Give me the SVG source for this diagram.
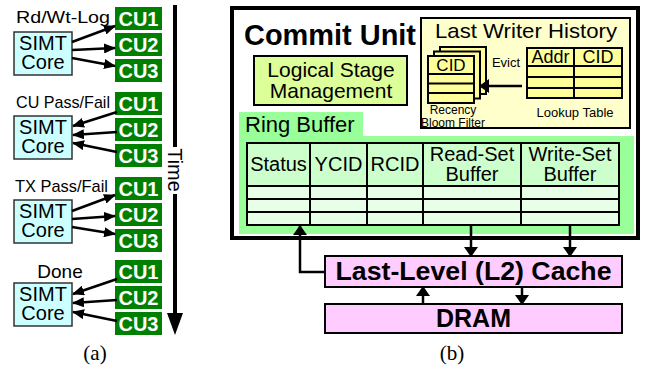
<svg xmlns="http://www.w3.org/2000/svg" width="646" height="371" viewBox="0 0 646 371">
  <style>
    text { font-family: "Liberation Sans", Arial, sans-serif; fill: #000; }
    .cu rect { fill: #008000; }
    .cu text { fill: #fff; font-weight: bold; font-size: 20px; text-anchor: middle; }
    .simt rect { fill: #ccffff; stroke: #333; stroke-width: 1.5; }
    .simt text { font-size: 20px; text-anchor: middle; }
    .lbl { font-size: 17px; }
    .wire { stroke: #000; stroke-width: 2.5; fill: none; }
    .bk { stroke: #000; stroke-width: 2; }
    .cap { font-family: "Liberation Serif", "Times New Roman", serif; font-size: 21px; text-anchor: middle; }
    .hdr { font-size: 20px; text-anchor: middle; }
    .sm { font-size: 13px; text-anchor: middle; }
    .mem { fill: #ffccff; stroke: #000; stroke-width: 2; }
    .memtxt { font-weight: bold; font-size: 25px; text-anchor: middle; }
  </style>
  <defs>
    <marker id="ah" markerUnits="userSpaceOnUse" markerWidth="12" markerHeight="10" refX="11" refY="5" orient="auto">
      <path d="M0,0 L12,5 L0,10 z" fill="#000"/>
    </marker>
    <marker id="ahb" markerUnits="userSpaceOnUse" markerWidth="10" markerHeight="14" refX="9" refY="7" orient="auto">
      <path d="M0,0 L10,7 L0,14 z" fill="#000"/>
    </marker>
    <g id="cus">
      <g class="cu">
        <rect x="115" y="0" width="47" height="23"/><text x="138.5" y="19">CU1</text>
        <rect x="115" y="26" width="47" height="23"/><text x="138.5" y="45">CU2</text>
        <rect x="115" y="52" width="47" height="23"/><text x="138.5" y="71">CU3</text>
      </g>
    </g>
    <g id="simt" class="simt">
      <rect x="14" y="0" width="58" height="43"/>
      <text x="43" y="18">SIMT</text>
      <text x="43" y="37">Core</text>
    </g>
  </defs>

  <!-- (a) timeline of commit messages -->
  <g id="step-rdwt">
    <text class="lbl" x="16" y="23" textLength="94" lengthAdjust="spacingAndGlyphs">Rd/Wt-Log</text>
    <use href="#simt" y="32"/>
    <use href="#cus" y="7"/>
  </g>
  <g id="step-cupass">
    <text class="lbl" x="16" y="108" textLength="94" lengthAdjust="spacingAndGlyphs">CU Pass/Fail</text>
    <use href="#simt" y="116"/>
    <use href="#cus" y="92"/>
  </g>
  <g id="step-txpass">
    <text class="lbl" x="15" y="192" textLength="93" lengthAdjust="spacingAndGlyphs">TX Pass/Fail</text>
    <use href="#simt" y="200"/>
    <use href="#cus" y="177"/>
  </g>
  <g id="step-done">
    <text class="lbl" x="60" y="278" text-anchor="middle" style="font-size:19px">Done</text>
    <use href="#simt" y="283"/>
    <use href="#cus" y="260"/>
  </g>

  <g id="time-axis">
    <line x1="175" y1="5" x2="175" y2="147" stroke="#000" stroke-width="4"/>
    <line x1="175" y1="194" x2="175" y2="316" stroke="#000" stroke-width="4"/>
    <path d="M167,313 L183,313 L175,335 z" fill="#000"/>
    <text transform="translate(168,170) rotate(90)" text-anchor="middle" style="font-size:20px">Time</text>
  </g>

  <g id="connectors-a" class="wire">
    <line x1="72" y1="42" x2="115" y2="26" marker-end="url(#ah)"/>
    <line x1="72" y1="50" x2="115" y2="48" marker-end="url(#ah)"/>
    <line x1="72" y1="58" x2="115" y2="66" marker-end="url(#ah)"/>

    <line x1="117" y1="112" x2="73" y2="126" marker-end="url(#ah)"/>
    <line x1="117" y1="132" x2="73" y2="135" marker-end="url(#ah)"/>
    <line x1="117" y1="152" x2="73" y2="143" marker-end="url(#ah)"/>

    <line x1="72" y1="211" x2="115" y2="195" marker-end="url(#ah)"/>
    <line x1="72" y1="219" x2="115" y2="216" marker-end="url(#ah)"/>
    <line x1="72" y1="227" x2="115" y2="234" marker-end="url(#ah)"/>

    <line x1="117" y1="279" x2="73" y2="294" marker-end="url(#ah)"/>
    <line x1="117" y1="300" x2="73" y2="303" marker-end="url(#ah)"/>
    <line x1="117" y1="321" x2="73" y2="312" marker-end="url(#ah)"/>
  </g>

  <text class="cap" x="95" y="360">(a)</text>

  <!-- (b) commit unit organisation -->
  <g id="commit-unit">
    <rect x="232" y="8" width="406" height="230" fill="#fff" stroke="#000" stroke-width="4"/>
    <text x="244" y="45" style="font-size:29px;font-weight:bold" textLength="172" lengthAdjust="spacingAndGlyphs">Commit Unit</text>
  </g>

  <g id="logical-stage">
    <rect x="254" y="56" width="153" height="49" fill="#ddff99" stroke="#000" stroke-width="2"/>
    <text x="331" y="77" text-anchor="middle" style="font-size:21px">Logical Stage</text>
    <text x="331" y="98" text-anchor="middle" style="font-size:21px">Management</text>
  </g>

  <g id="ring-buffer">
    <path d="M239,112 H363 V136 H634 V234 H239 z" fill="#99ff99"/>
    <text x="245" y="132" style="font-size:22px">Ring Buffer</text>
    <rect x="247" y="143" width="372" height="43" fill="#ccffcc"/>
    <rect x="247" y="186" width="372" height="39" fill="#e6ffe6"/>
    <g class="bk" fill="none">
      <rect x="247" y="143" width="372" height="82"/>
      <line x1="247" y1="186" x2="619" y2="186"/>
      <line x1="247" y1="199" x2="619" y2="199"/>
      <line x1="247" y1="212" x2="619" y2="212"/>
      <line x1="310" y1="143" x2="310" y2="225"/>
      <line x1="367" y1="143" x2="367" y2="225"/>
      <line x1="423" y1="143" x2="423" y2="225"/>
      <line x1="521" y1="143" x2="521" y2="225"/>
    </g>
    <text class="hdr" x="278.5" y="171">Status</text>
    <text class="hdr" x="338.5" y="171">YCID</text>
    <text class="hdr" x="395" y="171">RCID</text>
    <text class="hdr" x="472" y="161">Read-Set</text>
    <text class="hdr" x="472" y="181">Buffer</text>
    <text class="hdr" x="570" y="161">Write-Set</text>
    <text class="hdr" x="570" y="181">Buffer</text>
  </g>

  <g id="last-writer-history">
    <rect x="421" y="18" width="209" height="110" fill="#ffffcc" stroke="#000" stroke-width="2"/>
    <text x="526" y="38" text-anchor="middle" style="font-size:21px" textLength="182" lengthAdjust="spacingAndGlyphs">Last Writer History</text>

    <g id="bloom-filter" fill="#ffff99" stroke="#000" stroke-width="2">
      <rect x="440" y="47" width="46" height="47"/>
      <rect x="434" y="51.5" width="46" height="47"/>
      <rect x="428" y="56" width="46" height="47"/>
      <line x1="428" y1="74" x2="474" y2="74"/>
      <line x1="428" y1="83.5" x2="474" y2="83.5"/>
      <line x1="428" y1="93" x2="474" y2="93"/>
    </g>
    <text x="451" y="71" text-anchor="middle" style="font-size:17px">CID</text>
    <text class="sm" x="453" y="113.5" style="font-size:12px">Recency</text>
    <text class="sm" x="453" y="127" style="font-size:12px">Bloom Filter</text>

    <text x="506" y="67" text-anchor="middle" style="font-size:13px">Evict</text>

    <g id="lookup-table">
      <rect x="527" y="48" width="95" height="50" fill="#ffff99" stroke="#000" stroke-width="2"/>
      <g class="bk">
        <line x1="527" y1="66" x2="622" y2="66"/>
        <line x1="527" y1="77" x2="622" y2="77"/>
        <line x1="527" y1="88" x2="622" y2="88"/>
        <line x1="574" y1="48" x2="574" y2="98"/>
      </g>
      <text x="550.5" y="63" text-anchor="middle" style="font-size:18px">Addr</text>
      <text x="598" y="63" text-anchor="middle" style="font-size:18px">CID</text>
      <text class="sm" x="575" y="117">Lookup Table</text>
    </g>
  </g>

  <g id="l2-cache">
    <rect class="mem" x="325" y="256" width="297" height="31"/>
    <text class="memtxt" x="473.5" y="280" textLength="276" lengthAdjust="spacingAndGlyphs">Last-Level (L2) Cache</text>
  </g>

  <g id="dram">
    <rect class="mem" x="325" y="304" width="297" height="29"/>
    <text class="memtxt" x="473.5" y="327">DRAM</text>
  </g>

  <g id="connectors-b" class="wire">
    <line x1="522" y1="86" x2="480" y2="86" marker-end="url(#ahb)"/>
    <polyline points="325,272 300,272 300,226" marker-end="url(#ahb)"/>
    <line x1="471" y1="225" x2="471" y2="256" marker-end="url(#ahb)"/>
    <line x1="570" y1="225" x2="570" y2="256" marker-end="url(#ahb)"/>
    <line x1="423" y1="304" x2="423" y2="287" marker-end="url(#ahb)"/>
    <line x1="522" y1="287" x2="522" y2="304" marker-end="url(#ahb)"/>
  </g>

  <text class="cap" x="452" y="360">(b)</text>
</svg>
